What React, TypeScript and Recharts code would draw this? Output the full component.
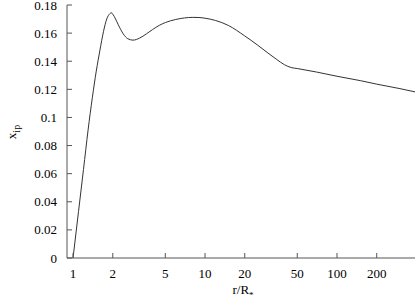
import { Line, LineChart, XAxis, YAxis } from 'recharts'

const rValues = [1, 1.1, 1.2, 1.3, 1.4, 1.5, 1.6, 1.7, 1.8, 1.9, 1.95, 2.0, 2.1, 2.2, 2.4, 2.6, 2.85, 3.2, 3.6, 4, 4.5, 5, 6, 7, 8, 9, 10, 12, 15, 20, 25, 30, 35, 40, 45, 50, 70, 100, 150, 200, 300, 390]
const xipValues = [0, 0.033, 0.063, 0.091, 0.114, 0.133, 0.148, 0.161, 0.17, 0.1738, 0.1745, 0.1735, 0.17, 0.166, 0.1595, 0.156, 0.155, 0.1565, 0.1595, 0.1625, 0.1655, 0.1675, 0.1697, 0.1708, 0.1712, 0.1711, 0.1706, 0.169, 0.1655, 0.158, 0.1515, 0.1458, 0.1412, 0.1375, 0.1355, 0.1348, 0.1323, 0.1293, 0.1262, 0.1237, 0.1205, 0.1182]

const xTicks = [1, 2, 5, 10, 20, 50, 100, 200]
const yTicks = [0, 0.02, 0.04, 0.06, 0.08, 0.1, 0.12, 0.14, 0.16, 0.18]

const data = rValues.map((r, i) => ({ r, xip: xipValues[i] }))

const FONT = '"Liberation Serif", "DejaVu Serif", serif'
const AXIS = '#555'

// gnuplot-style inward tick + label
function BottomTick(props: any) {
  const { x, y, payload } = props
  return (
    <g>
      <line x1={x} y1={y} x2={x} y2={y - 5} stroke={AXIS} />
      <text x={x} y={y + 20} textAnchor="middle" fontFamily={FONT} fontSize={13} fill="#000">
        {payload.value}
      </text>
    </g>
  )
}

function TopTick(props: any) {
  const { x, y } = props
  return <line x1={x} y1={y} x2={x} y2={y + 5} stroke={AXIS} />
}

function LeftTick(props: any) {
  const { x, y, payload } = props
  return (
    <g>
      <line x1={x} y1={y} x2={x + 5} y2={y} stroke={AXIS} />
      <text x={x - 10} y={y + 4.5} textAnchor="end" fontFamily={FONT} fontSize={13} fill="#000">
        {String(payload.value)}
      </text>
    </g>
  )
}

function RightTick(props: any) {
  const { x, y } = props
  return <line x1={x} y1={y} x2={x - 5} y2={y} stroke={AXIS} />
}

export default function App() {
  return (
    <div style={{ position: 'absolute', left: 0, top: 0, background: '#fff' }}>
      <LineChart width={417} height={306} data={data} margin={{ top: 5, right: 2, bottom: 0, left: 0 }}>
        <XAxis
          xAxisId="b"
          dataKey="r"
          type="number"
          scale="log"
          domain={[0.9, 390]}
          allowDataOverflow
          ticks={xTicks}
          interval={0}
          height={48}
          stroke={AXIS}
          tickLine={false}
          tickSize={0}
          tickMargin={0}
          tick={BottomTick}
        />
        <XAxis
          xAxisId="t"
          orientation="top"
          dataKey="r"
          type="number"
          scale="log"
          domain={[0.9, 390]}
          allowDataOverflow
          ticks={xTicks}
          interval={0}
          height={0}
          stroke={AXIS}
          tickLine={false}
          tickSize={0}
          tickMargin={0}
          tick={TopTick}
        />
        <YAxis
          yAxisId="l"
          type="number"
          domain={[0, 0.18]}
          ticks={yTicks}
          interval={0}
          width={67}
          stroke={AXIS}
          tickLine={false}
          tickSize={0}
          tickMargin={0}
          tick={LeftTick}
        />
        <YAxis
          yAxisId="r"
          orientation="right"
          type="number"
          domain={[0, 0.18]}
          ticks={yTicks}
          interval={0}
          width={0}
          stroke={AXIS}
          tickLine={false}
          tickSize={0}
          tickMargin={0}
          tick={RightTick}
        />
        <Line
          xAxisId="b"
          yAxisId="l"
          dataKey="xip"
          type="monotone"
          stroke="#333"
          strokeWidth={1}
          dot={false}
          isAnimationActive={false}
        />
        <text x={243} y={294} textAnchor="middle" fontFamily={FONT} fontSize={13} fill="#000">
          r/R
          <tspan fontSize={9} dy={4}>*</tspan>
        </text>
        <text transform="translate(16,132) rotate(-90)" textAnchor="middle" fontFamily={FONT} fontSize={13} fill="#000">
          x
          <tspan fontSize={10} dy={4}>ip</tspan>
        </text>
      </LineChart>
    </div>
  )
}
